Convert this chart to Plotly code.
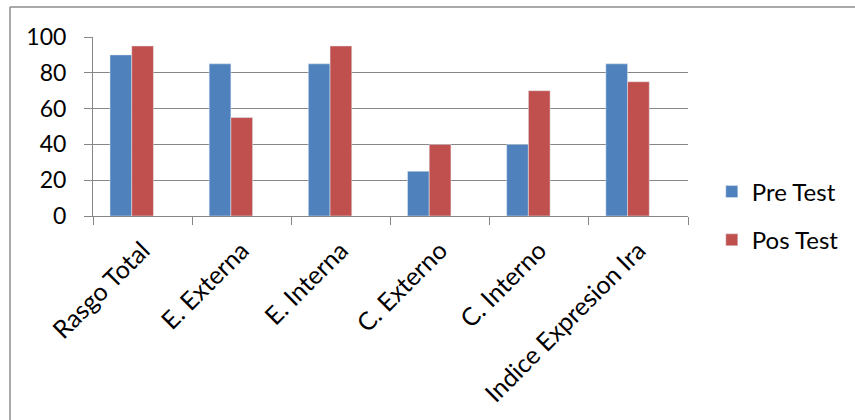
import plotly.graph_objects as go

categories = ["Rasgo Total", "E. Externa", "E. Interna", "C. Externo", "C. Interno", "Indice Expresion Ira"]
pre_test = [90, 85, 85, 25, 40, 85]
pos_test = [95, 55, 95, 40, 70, 75]
y_ticks = [0, 20, 40, 60, 80, 100]

FONT = "Lato, Open Sans, sans-serif"
GRID = "#868686"
BAR_W = 0.219

fig = go.Figure()
fig.add_trace(go.Bar(x=categories, y=pre_test, name="Pre Test", marker_color="#4F81BD",
                     legendgroup="a", width=BAR_W, offset=-1.5 * BAR_W))
fig.add_trace(go.Bar(x=categories, y=pos_test, name="Pos Test", marker_color="#C0504D",
                     legendgroup="b", width=BAR_W, offset=-0.5 * BAR_W))

L, R, T, B = 93, 167, 37, 204
W, H = 855, 420
pw = W - L - R
ph = H - T - B
bx = (10 - L) / pw
by = (H - B - 7) / ph

fig.update_layout(
    width=W, height=H,
    margin=dict(l=L, r=R, t=T, b=B, autoexpand=False),
    paper_bgcolor="white", plot_bgcolor="white",
    font=dict(family=FONT, size=23, color="black"),
    barmode="overlay",
    showlegend=True,
    legend=dict(x=1.04, xanchor="left", y=0.0, yanchor="middle",
                font=dict(size=24), tracegroupgap=14, itemclick=False),
    xaxis=dict(showgrid=False, tickangle=-45, ticks="outside", tickson="boundaries",
               ticklen=8, tickcolor=GRID, showline=True, linecolor=GRID, linewidth=1,
               tickfont=dict(size=25), ticklabelstandoff=9, automargin=False,
               range=[-0.5, 5.5]),
    yaxis=dict(range=[0, 100], tickvals=y_ticks, showgrid=True, gridcolor=GRID, gridwidth=1,
               ticks="outside", ticklen=8, tickcolor=GRID, showline=True, linecolor=GRID,
               linewidth=1, zeroline=False, tickfont=dict(size=23), ticklabelstandoff=13,
               automargin=False),
    shapes=[
        dict(type="line", xref="paper", yref="paper", x0=bx, x1=3, y0=by, y1=by,
             line=dict(color="#8c8c8c", width=1.5)),
        dict(type="line", xref="paper", yref="paper", x0=bx, x1=bx, y0=by, y1=-3,
             line=dict(color="#8c8c8c", width=1.5)),
    ],
)

fig.write_html("out.html")
